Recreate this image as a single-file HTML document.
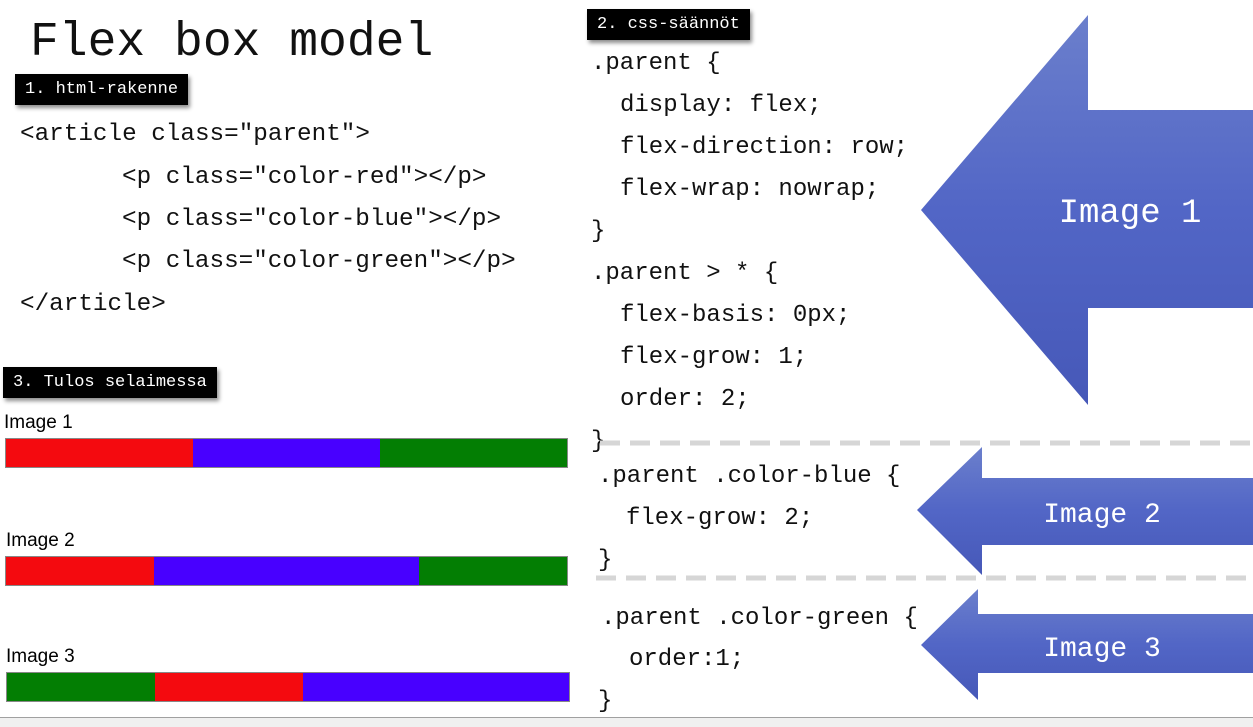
<!DOCTYPE html>
<html><head><meta charset="utf-8"><style>
body{margin:0;width:1253px;height:727px;background:#fff;position:relative;overflow:hidden;font-family:"Liberation Mono",monospace;}
.t{position:absolute;white-space:pre;line-height:30px;font-size:24px;color:#111;}
.lab{position:absolute;background:#000;color:#fff;font-size:17px;line-height:31px;padding:0 10px;box-shadow:2px 3px 4px rgba(0,0,0,.45);white-space:pre;}
.s{position:absolute;font-family:"Liberation Sans",sans-serif;font-size:19px;line-height:22px;color:#000;}
.bar{position:absolute;height:30px;display:flex;border:1px solid #888;box-sizing:border-box;}
.bar div{height:100%}
.r{background:#f40a0f}.b{background:#4800ff}.g{background:#037e03}
</style></head><body>
<div class="t" style="left:30px;top:15px;font-size:48px;line-height:56px">Flex box model</div>
<div class="lab" style="left:15px;top:74px">1. html-rakenne</div>
<div class="t" style="left:20px;top:120px;font-size:24.3px">&lt;article class="parent"&gt;</div>
<div class="t" style="left:122px;top:163px;font-size:24.3px">&lt;p class="color-red"&gt;&lt;/p&gt;</div>
<div class="t" style="left:122px;top:205px;font-size:24.3px">&lt;p class="color-blue"&gt;&lt;/p&gt;</div>
<div class="t" style="left:122px;top:247px;font-size:24.3px">&lt;p class="color-green"&gt;&lt;/p&gt;</div>
<div class="t" style="left:20px;top:290px;font-size:24.3px">&lt;/article&gt;</div>

<div class="lab" style="left:3px;top:367px">3. Tulos selaimessa</div>
<div class="s" style="left:4px;top:412px">Image 1</div>
<div class="bar" style="left:5px;top:438px;width:563px"><div class="r" style="flex:1"></div><div class="b" style="flex:1"></div><div class="g" style="flex:1"></div></div>
<div class="s" style="left:6px;top:530px">Image 2</div>
<div class="bar" style="left:5px;top:556px;width:563px"><div class="r" style="flex:1"></div><div class="b" style="flex:1.8"></div><div class="g" style="flex:1"></div></div>
<div class="s" style="left:6px;top:646px">Image 3</div>
<div class="bar" style="left:6px;top:672px;width:564px"><div class="g" style="flex:1"></div><div class="r" style="flex:1"></div><div class="b" style="flex:1.8"></div></div>

<div class="lab" style="left:587px;top:9px">2. css-säännöt</div>
<div class="t" style="left:591px;top:49px">.parent {</div>
<div class="t" style="left:620px;top:91px">display: flex;</div>
<div class="t" style="left:620px;top:133px">flex-direction: row;</div>
<div class="t" style="left:620px;top:175px">flex-wrap: nowrap;</div>
<div class="t" style="left:591px;top:217px">}</div>
<div class="t" style="left:591px;top:259px">.parent &gt; * {</div>
<div class="t" style="left:620px;top:301px">flex-basis: 0px;</div>
<div class="t" style="left:620px;top:343px">flex-grow: 1;</div>
<div class="t" style="left:620px;top:385px">order: 2;</div>
<div class="t" style="left:591px;top:427px">}</div>
<div class="t" style="left:598px;top:462px">.parent .color-blue {</div>
<div class="t" style="left:626px;top:504px">flex-grow: 2;</div>
<div class="t" style="left:598px;top:546px">}</div>
<div class="t" style="left:601px;top:604px">.parent .color-green {</div>
<div class="t" style="left:629px;top:645px">order:1;</div>
<div class="t" style="left:598px;top:687px">}</div>

<svg style="position:absolute;left:0;top:0" width="1253" height="727">
<defs><linearGradient id="gr" x1="0" y1="0" x2="0" y2="1"><stop offset="0" stop-color="#6b7fcc"/><stop offset=".5" stop-color="#5266c6"/><stop offset="1" stop-color="#4658b8"/></linearGradient></defs>
<line x1="600" y1="443" x2="1253" y2="443" stroke="#d6d6d6" stroke-width="5" stroke-dasharray="20 10"/>
<line x1="596" y1="578" x2="1253" y2="578" stroke="#d6d6d6" stroke-width="5" stroke-dasharray="20 10"/>
<polygon points="921,210 1088,15 1088,110 1253,110 1253,308 1088,308 1088,405" fill="url(#gr)"/>
<polygon points="917,510 982,447 982,478 1253,478 1253,545 982,545 982,575" fill="url(#gr)"/>
<polygon points="921,645 978,589 978,614 1253,614 1253,673 978,673 978,700" fill="url(#gr)"/>
<text x="1130" y="222" fill="#fff" font-family="Liberation Mono,monospace" font-size="34" text-anchor="middle">Image 1</text>
<text x="1102" y="522" fill="#fff" font-family="Liberation Mono,monospace" font-size="28" text-anchor="middle">Image 2</text>
<text x="1102" y="656" fill="#fff" font-family="Liberation Mono,monospace" font-size="28" text-anchor="middle">Image 3</text>
<rect x="0" y="717" width="1253" height="10" fill="#f0f0f0"/>
<line x1="0" y1="717.5" x2="1253" y2="717.5" stroke="#a0a0a0"/>
</svg>
</body></html>
